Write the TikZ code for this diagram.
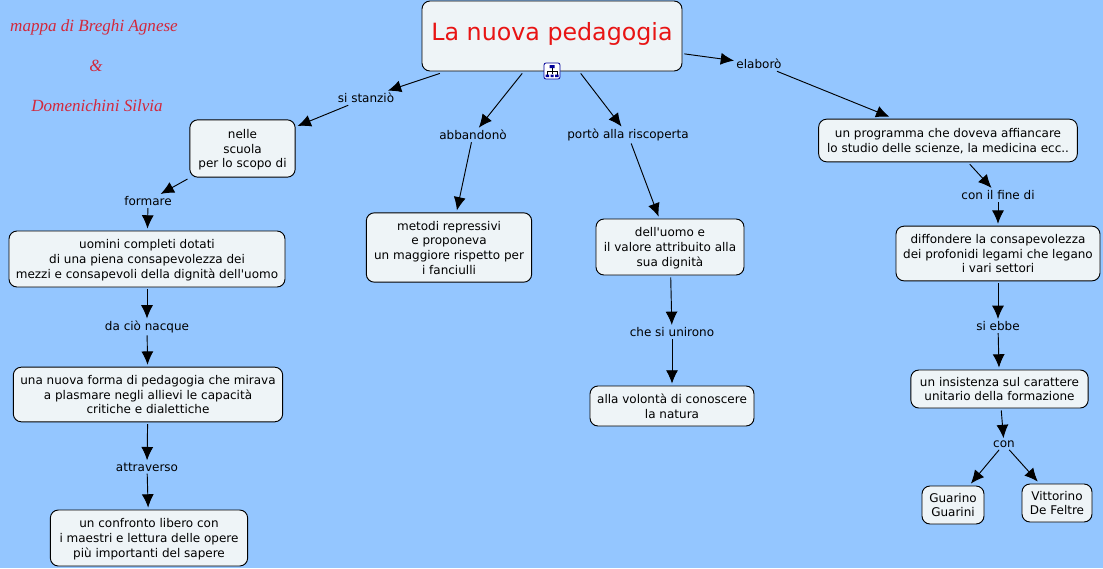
\documentclass[tikz,border=0pt]{standalone}
\usepackage{fontspec}
\setmainfont{DejaVu Sans}
\newfontfamily\signfont{Liberation Serif}
\usepackage{xcolor}
\usetikzlibrary{arrows.meta}
\definecolor{mapblue}{HTML}{94C6FF}
\definecolor{boxfill}{HTML}{EEF4F7}
\definecolor{titlered}{HTML}{E81414}
\definecolor{signred}{HTML}{D2283C}
\tikzset{concept/.style = {draw = black, fill = boxfill, rounded corners = 6, line width = 0.7pt, align = center, inner sep = 0, outer sep = 1.8pt, text depth = -1pt, font = \fontsize{9}{11}\selectfont}}
\tikzset{linkword/.style = {align = center, inner sep = 1pt, outer sep = 0.8pt, font = \fontsize{9}{11}\selectfont}}
\tikzset{conn/.style = {draw = black, line width = 0.7pt, -{Latex[length = 10pt, width = 9pt]}}}
\tikzset{sign/.style = {text = signred, font = \signfont\itshape\fontsize{12.8}{15}\selectfont}}

\begin{document}
\begin{tikzpicture}[x = 0.75pt, y = -0.75pt]
    \fill[mapblue] (0,0) rectangle (1103,568);
    \useasboundingbox (0,0) rectangle (1103,568);
    \node[sign] (sign1) at (94,27) {mappa di Breghi Agnese};
    \node[sign] (sign2) at (96,66) {\&};
    \node[sign] (sign3) at (97,106) {Domenichini Silvia};
    % main concept
    \node[concept, minimum width = 195pt, minimum height = 52.5pt, text = titlered, text depth = 7pt, font = \fontsize{17.8}{22}\selectfont] (root) at (552,36) {La nuova pedagogia};
    % left branch
    \node[linkword] (stanzio) at (366,98) {si stanziò};
    \node[concept, minimum width = 79pt, minimum height = 43pt] (nelle) at (242.5,148.5) {nelle\\scuola\\per lo scopo di};
    \node[linkword] (formare) at (148,201) {formare};
    \node[concept, minimum width = 207pt, minimum height = 42pt] (uomini) at (147,259) {uomini completi dotati\\di una piena consapevolezza dei\\mezzi e consapevoli della dignità dell\textquotesingle uomo};
    \node[linkword] (nacque) at (147,327) {da ciò nacque};
    \node[concept, minimum width = 202pt, minimum height = 41pt] (forma) at (148,394.5) {una nuova forma di pedagogia che mirava\\a plasmare negli allievi le capacità\\critiche e dialettiche};
    \node[linkword] (attraverso) at (147,467) {attraverso};
    \node[concept, minimum width = 148pt, minimum height = 42pt] (confronto) at (149,538) {un confronto libero con\\i maestri e lettura delle opere\\più importanti del sapere};
    % middle branches
    \node[linkword] (abbandono) at (473,135) {abbandonò};
    \node[concept, minimum width = 124pt, minimum height = 52pt] (metodi) at (449,247.5) {metodi repressivi\\e proponeva\\un maggiore rispetto per\\i fanciulli};
    \node[linkword] (porto) at (628,135) {portò alla riscoperta};
    \node[concept, minimum width = 111pt, minimum height = 42pt] (uomo) at (670,247) {dell\textquotesingle uomo e\\il valore attribuito alla\\sua dignità};
    \node[linkword] (unirono) at (672,332) {che si unirono};
    \node[concept, minimum width = 123pt, minimum height = 30pt] (volonta) at (672,406) {alla volontà di conoscere\\la natura};
    % right branch
    \node[linkword] (elaboro) at (759,64) {elaborò};
    \node[concept, minimum width = 194pt, minimum height = 32pt] (programma) at (948,140.5) {un programma che doveva affiancare\\lo studio delle scienze, la medicina ecc..};
    \node[linkword] (fine) at (998,195) {con il fine di};
    \node[concept, minimum width = 153pt, minimum height = 41pt] (diffondere) at (998,253.5) {diffondere la consapevolezza\\dei profonidi legami che legano\\i vari settori};
    \node[linkword] (ebbe) at (998,326) {si ebbe};
    \node[concept, minimum width = 133pt, minimum height = 28.5pt] (insistenza) at (999.5,389) {un insistenza sul carattere\\unitario della formazione};
    \node[linkword] (con) at (1004,444) {con};
    \node[concept, minimum width = 46.5pt, minimum height = 28.5pt] (guarino) at (953,505) {Guarino\\Guarini};
    \node[concept, minimum width = 52.5pt, minimum height = 28.5pt] (vittorino) at (1057,503) {Vittorino\\De Feltre};
    \foreach \from/\to in {root/stanzio, stanzio/nelle, nelle/formare, formare/uomini, uomini/nacque, nacque/forma, forma/attraverso, attraverso/confronto, root/abbandono, abbandono/metodi, root/porto, porto/uomo, uomo/unirono, unirono/volonta, root/elaboro, elaboro/programma, programma/fine, fine/diffondere, diffondere/ebbe, ebbe/insistenza, insistenza/con, con/guarino, con/vittorino} {
        \draw[conn] (\from) -- (\to);
    }
    % map icon
    \node[draw = blue!60!black, fill = white, rounded corners = 1.5, line width = 0.6pt, minimum size = 12pt, inner sep = 0] (icon) at (552,71) {};
    \draw[line width = 0.5pt] (552,66) -- (552,74) (547,71) -- (557,71) (547,71) -- (547,75) (557,71) -- (557,75);
    \fill[blue!60!black] (549.5,65) rectangle (554.5,68) (545.5,74.5) rectangle (549,77) (550.5,74.5) rectangle (553.5,77) (555,74.5) rectangle (558.5,77);
\end{tikzpicture}
\end{document}
